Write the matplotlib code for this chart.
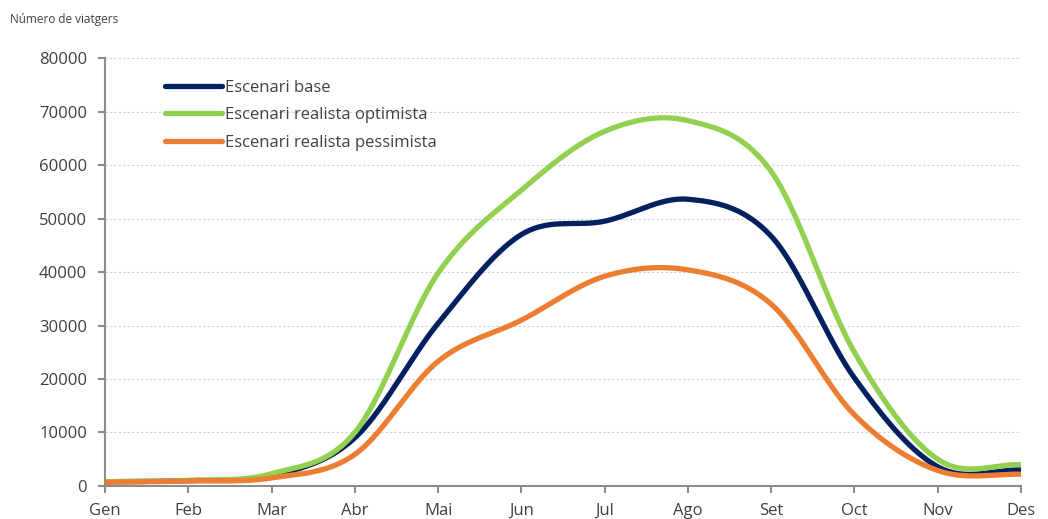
import numpy as np
import matplotlib
matplotlib.use('Agg')
import matplotlib.pyplot as plt

months = ['Gen', 'Feb', 'Mar', 'Abr', 'Mai', 'Jun', 'Jul', 'Ago', 'Set', 'Oct', 'Nov', 'Des']
base = [800, 1000, 1900, 9000, 30400, 47000, 49500, 53600, 46700, 20200, 3600, 3000]
optimista = [800, 1050, 2300, 10000, 39800, 55300, 66300, 68300, 58800, 25000, 5000, 4000]
pessimista = [700, 950, 1500, 5900, 23300, 31000, 39200, 40400, 34000, 13300, 2900, 2200]
labels = ['Escenari base', 'Escenari realista optimista', 'Escenari realista pessimista']
colors = ['#002060', '#92D050', '#ED7D31']


def smooth(y, n=40):
    # catmull-rom, like the excel smoothed line
    y = np.asarray(y, float)
    p = np.concatenate([[y[0]], y, [y[-1]]])
    xs, ys = [], []
    for i in range(len(y) - 1):
        p0, p1, p2, p3 = p[i], p[i + 1], p[i + 2], p[i + 3]
        t = np.linspace(0, 1, n, endpoint=False)
        m1 = (p2 - p0) / 2
        m2 = (p3 - p1) / 2
        h00 = 2 * t**3 - 3 * t**2 + 1
        h10 = t**3 - 2 * t**2 + t
        h01 = -2 * t**3 + 3 * t**2
        h11 = t**3 - t**2
        xs.append(i + t)
        ys.append(h00 * p1 + h10 * m1 + h01 * p2 + h11 * m2)
    xs.append([len(y) - 1])
    ys.append([y[-1]])
    return np.concatenate(xs), np.concatenate(ys)


plt.rcParams['font.family'] = ['Open Sans', 'DejaVu Sans']

fig = plt.figure(figsize=(10.48, 5.19), dpi=100)
ax = fig.add_axes([0.1002, 0.0636, 0.874, 0.8246])

for y, lab, c in zip([base, optimista, pessimista], labels, colors):
    sx, sy = smooth(y)
    ax.plot(sx, sy, color=c, lw=3.8, label=lab, solid_capstyle='round', zorder=3)

ax.set_xlim(0, 11)
ax.set_ylim(0, 80000)
ax.set_xticks(range(12))
ax.set_xticklabels(months)
ax.set_yticks(range(0, 80001, 10000))
ax.yaxis.grid(True, color='#D0D0D0', linestyle=(0, (2, 2)), lw=0.8)
ax.set_axisbelow(True)

for s in ['top', 'right']:
    ax.spines[s].set_visible(False)
for s in ['left', 'bottom']:
    ax.spines[s].set_color('#8C8C8C')
    ax.spines[s].set_linewidth(1.5)
ax.tick_params(axis='both', colors='#8C8C8C', length=5, width=1.5, labelsize=12,
               labelcolor='#404040')
ax.tick_params(axis='x', pad=7)
ax.tick_params(axis='y', pad=8)

leg = ax.legend(loc='upper left', bbox_to_anchor=(0.066, 0.949), frameon=False,
                fontsize=12, handlelength=3.4, handletextpad=0.2,
                labelspacing=0.68, borderpad=0, borderaxespad=0)
for t in leg.get_texts():
    t.set_color('#404040')

fig.text(0.0095, 0.975, 'Número de viatgers', fontsize=8.5, color='#404040', va='top')

fig.savefig('out.png', dpi=100)
